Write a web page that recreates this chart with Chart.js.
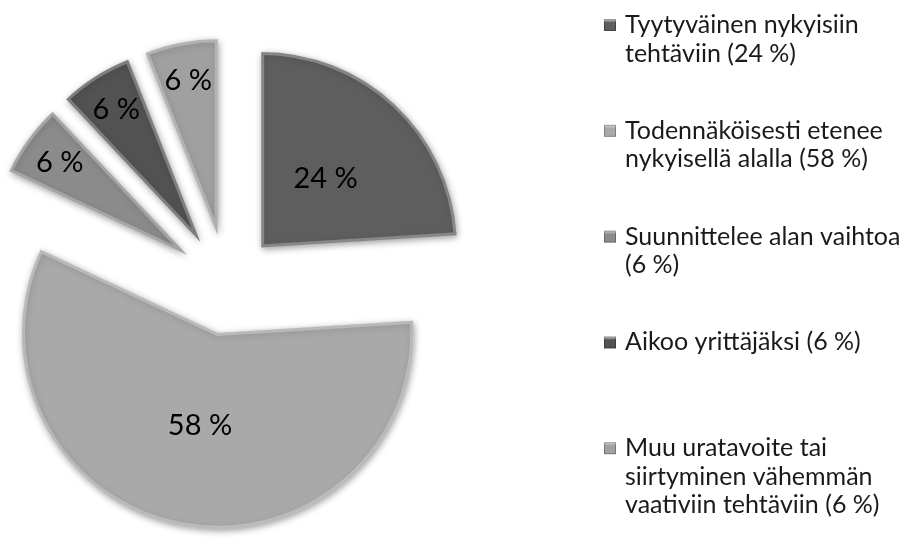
<!DOCTYPE html>
<html>
<head>
<meta charset="utf-8">
<script src="https://cdn.jsdelivr.net/npm/chart.js@4.4.0/dist/chart.umd.min.js"></script>
<style>
  html, body { margin: 0; padding: 0; background: #fff; }
</style>
</head>
<body>
<canvas id="pie" width="904" height="554"></canvas>
<script>
"use strict";
// data
var labels = [
  ["Tyytyväinen nykyisiin", "tehtäviin (24 %)"],
  ["Todennäköisesti etenee", "nykyisellä alalla (58 %)"],
  ["Suunnittelee alan vaihtoa", "(6 %)"],
  ["Aikoo yrittäjäksi (6 %)"],
  ["Muu uratavoite tai", "siirtyminen vähemmän", "vaativiin tehtäviin (6 %)"]
];
var values = [24, 58, 6, 6, 6];
var sliceColors = ["#5e5e5e", "#a9a9a9", "#8b8b8b", "#525252", "#a0a0a0"];

var FONT = "Lato, 'Liberation Sans', sans-serif";
var EXPLODE = 50;

// pull every slice out from the centre and give it a soft shadow
var explodePlugin = {
  id: "explode",
  beforeDatasetsDraw: function (chart) {
    var a = chart.chartArea;
    var cx = (a.left + a.right) / 2, cy = (a.top + a.bottom) / 2;
    chart.getDatasetMeta(0).data.forEach(function (arc) {
      var mid = (arc.startAngle + arc.endAngle) / 2;
      arc.x = cx + Math.cos(mid) * EXPLODE;
      arc.y = cy + Math.sin(mid) * EXPLODE;
    });
    var ctx = chart.ctx;
    ctx.save();
    ctx.shadowColor = "rgba(0,0,0,0.4)";
    ctx.shadowBlur = 7;
    ctx.shadowOffsetX = 1;
    ctx.shadowOffsetY = 2;
  },
  afterDatasetsDraw: function (chart) {
    var ctx = chart.ctx;
    ctx.restore();
    // percent labels inside the slices
    ctx.save();
    ctx.fillStyle = "#000";
    ctx.font = "29px " + FONT;
    ctx.textAlign = "center";
    ctx.textBaseline = "middle";
    chart.getDatasetMeta(0).data.forEach(function (arc, i) {
      var mid = (arc.startAngle + arc.endAngle) / 2;
      var f = arc.circumference < 1 ? 0.8 : 0.48;
      var r = arc.outerRadius * f;
      ctx.fillText(values[i] + " %", arc.x + Math.cos(mid) * r, arc.y + Math.sin(mid) * r);
    });
    ctx.restore();
  }
};

// legend on the right, items evenly spaced like the original
var legendPlugin = {
  id: "sideLegend",
  afterDraw: function (chart) {
    var ctx = chart.ctx;
    var x0 = 604, tx = 625, y0 = 25, step = 105.8, lh = 28.5;
    ctx.save();
    ctx.font = "25px " + FONT;
    ctx.textBaseline = "middle";
    chart.data.labels.forEach(function (lines, i) {
      var y = y0 + i * step;
      var g = ctx.createLinearGradient(0, y - 6, 0, y + 6);
      g.addColorStop(0, "#d8d8d8");
      g.addColorStop(0.3, sliceColors[i]);
      g.addColorStop(1, sliceColors[i]);
      ctx.fillStyle = g;
      ctx.fillRect(x0, y - 6, 12, 12);
      ctx.strokeStyle = "rgba(0,0,0,0.25)";
      ctx.lineWidth = 1;
      ctx.strokeRect(x0 + 0.5, y - 5.5, 11, 11);
      ctx.fillStyle = "#1a1a1a";
      lines.forEach(function (t, j) {
        ctx.fillText(t, tx, y + j * lh);
      });
    });
    ctx.restore();
  }
};

new Chart(document.getElementById("pie"), {
  type: "pie",
  data: {
    labels: labels,
    datasets: [
      {
        data: values,
        backgroundColor: sliceColors,
        borderColor: "rgba(255,255,255,0.28)",
        borderWidth: 3,
        borderAlign: "inner"
      }
    ]
  },
  options: {
    responsive: false,
    animation: false,
    radius: 196,
    layout: { padding: { left: 0, right: 450, top: 14, bottom: 0 } },
    plugins: {
      legend: { display: false },
      tooltip: { enabled: false }
    }
  },
  plugins: [explodePlugin, legendPlugin]
});
</script>
</body>
</html>
